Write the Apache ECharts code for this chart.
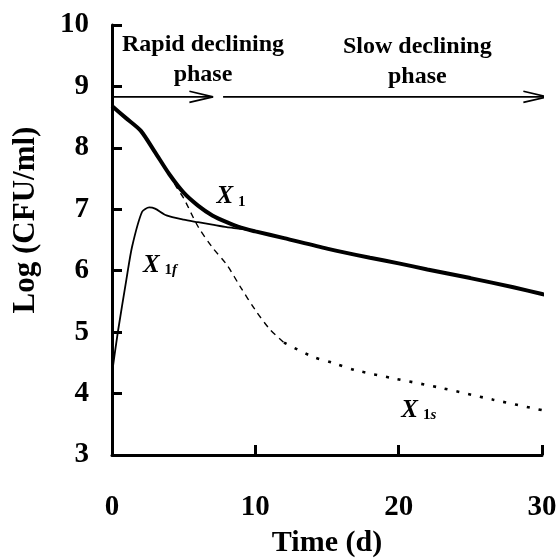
<!DOCTYPE html>
<html><head><meta charset="utf-8">
<script src="https://cdn.jsdelivr.net/npm/echarts@6/dist/echarts.min.js"></script>
<style>html,body{margin:0;padding:0;background:#fff}#c{width:560px;height:559px}</style>
</head><body><div id="c"></div>
<script>
// ---- data ----
const xTicks = [0, 10, 20, 30];
const yTicks = [3, 4, 5, 6, 7, 8, 9, 10];

const x1Time = [0, 1, 2, 3, 4, 5, 6, 7, 8, 9, 10, 12, 15, 18, 20, 22, 25, 28, 30, 30.7];
const x1Val  = [8.68, 8.48, 8.28, 7.93, 7.57, 7.27, 7.06, 6.9, 6.79, 6.7, 6.64, 6.53, 6.36, 6.21, 6.12, 6.02, 5.88, 5.73, 5.62, 5.58];

const x1fTime = [0, 0.4, 1, 1.4, 2.1, 2.6, 3, 3.8, 5, 6, 7, 8, 9, 10];
const x1fVal  = [4.33, 4.99, 5.85, 6.39, 6.96, 7.03, 7.01, 6.9, 6.83, 6.79, 6.75, 6.71, 6.68, 6.64];

const x1sDashTime = [4, 4.5, 5, 6, 7, 8, 9, 10, 11, 12];
const x1sDashVal  = [7.57, 7.36, 7.18, 6.72, 6.38, 6.1, 5.72, 5.36, 5.05, 4.83];
const x1sDotTime  = [12, 14, 15.4, 17, 19.6, 23, 26.6, 30.2];
const x1sDotVal   = [4.83, 4.6, 4.5, 4.38, 4.25, 4.09, 3.9, 3.72];

const phaseLevel = 8.83;
const rapidArrow = [0, 7.05];
const slowArrow  = [7.75, 30.35];
const headLen = 1.65, headHalf = 0.09;

const phaseLabels = [
  {t: 6.35, v: 9.43, text: 'Rapid declining\nphase'},
  {t: 21.3, v: 9.4, text: 'Slow declining\nphase'}
];
const curveLabels = [
  {t: 8.3, v: 7.2, text: '{x|X}{s|1}'},
  {t: 3.35, v: 6.09, text: '{x|X}{s|1}{i|f}'},
  {t: 21.4, v: 3.73, text: '{x|X}{s|1}{i|s}'}
];

// ---- build ----
const zip = (a, b) => a.map((t, i) => [t, b[i]]);
const FONT = "'Liberation Serif', 'Times New Roman', serif";

function arrowSeries(range) {
  const [a, b] = range;
  return [
    {type: 'line', data: [[a, phaseLevel], [b, phaseLevel]], symbol: 'none', clip: false,
     lineStyle: {color: '#000', width: 1.6}, silent: true},
    {type: 'line', data: [[b - headLen, phaseLevel + headHalf], [b, phaseLevel], [b - headLen, phaseLevel - headHalf]],
     symbol: 'none', clip: false, lineStyle: {color: '#000', width: 1.6}, silent: true}
  ];
}

const noBorder = {textBorderWidth: 0, textBorderColor: 'transparent', textShadowBlur: 0};
const rich = {
  x: {fontFamily: FONT, fontStyle: 'italic', fontWeight: 'bold', fontSize: 25, color: '#000', ...noBorder},
  s: {fontFamily: FONT, fontWeight: 'bold', fontSize: 15, color: '#000', padding: [0, 0, 0, 5], verticalAlign: 'bottom', ...noBorder},
  i: {fontFamily: FONT, fontStyle: 'italic', fontWeight: 'bold', fontSize: 15, color: '#000', verticalAlign: 'bottom', ...noBorder}
};

const chart = echarts.init(document.getElementById('c'), null, {renderer: 'canvas'});
chart.setOption({
  backgroundColor: '#fff',
  animation: false,
  grid: {left: 112, right: 18, top: 25, bottom: 104, containLabel: false, outerBoundsMode: 'none'},
  xAxis: {
    type: 'value', min: xTicks[0], max: xTicks[xTicks.length - 1], interval: 10,
    name: 'Time (d)', nameLocation: 'middle', nameGap: 73,
    nameTextStyle: {fontFamily: FONT, fontWeight: 'bold', fontSize: 30, color: '#000'},
    axisLine: {lineStyle: {color: '#000', width: 3}},
    axisTick: {inside: true, length: 10, lineStyle: {color: '#000', width: 3}},
    axisLabel: {fontFamily: FONT, fontWeight: 'bold', fontSize: 29, color: '#000', margin: 38},
    splitLine: {show: false}
  },
  yAxis: {
    type: 'value', min: yTicks[0], max: yTicks[yTicks.length - 1], interval: 1,
    name: 'Log (CFU/ml)', nameLocation: 'middle', nameGap: 71,
    nameTextStyle: {fontFamily: FONT, fontWeight: 'bold', fontSize: 31, color: '#000', padding: [0, 0, 0, 40]},
    axisLine: {lineStyle: {color: '#000', width: 3}},
    axisTick: {inside: true, length: 10, lineStyle: {color: '#000', width: 3}},
    axisLabel: {fontFamily: FONT, fontWeight: 'bold', fontSize: 29, color: '#000', margin: 23},
    splitLine: {show: false}
  },
  series: [
    {type: 'line', name: 'X1s dash', data: zip(x1sDashTime, x1sDashVal), symbol: 'none', smooth: 0.3,
     lineStyle: {color: '#000', width: 1.4, type: [6, 5]}},
    {type: 'line', name: 'X1s dot', data: zip(x1sDotTime, x1sDotVal), symbol: 'none', smooth: 0.3, clip: false,
     lineStyle: {color: '#000', width: 2.6, type: [3, 9]}},
    {type: 'line', name: 'X1f', data: zip(x1fTime, x1fVal), symbol: 'none', smooth: 0.25,
     lineStyle: {color: '#000', width: 1.8}},
    {type: 'line', name: 'X1', data: zip(x1Time, x1Val), symbol: 'none', smooth: 0.25, clip: false,
     lineStyle: {color: '#000', width: 4}},
    ...arrowSeries(rapidArrow),
    ...arrowSeries(slowArrow),
    {type: 'scatter', data: phaseLabels.map(p => ({value: [p.t, p.v], label: {formatter: p.text}})),
     symbolSize: 0, silent: true, itemStyle: {color: '#000', opacity: 1},
     label: {show: true, position: 'inside', color: '#000', fontFamily: FONT, fontWeight: 'bold',
             fontSize: 24, lineHeight: 30, align: 'center', ...noBorder}},
    {type: 'scatter', data: curveLabels.map(p => ({value: [p.t, p.v], label: {formatter: p.text}})),
     symbolSize: 0, silent: true, itemStyle: {color: '#000', opacity: 1},
     label: {show: true, position: 'inside', color: '#000', ...noBorder, rich: rich}}
  ]
});
</script></body></html>
